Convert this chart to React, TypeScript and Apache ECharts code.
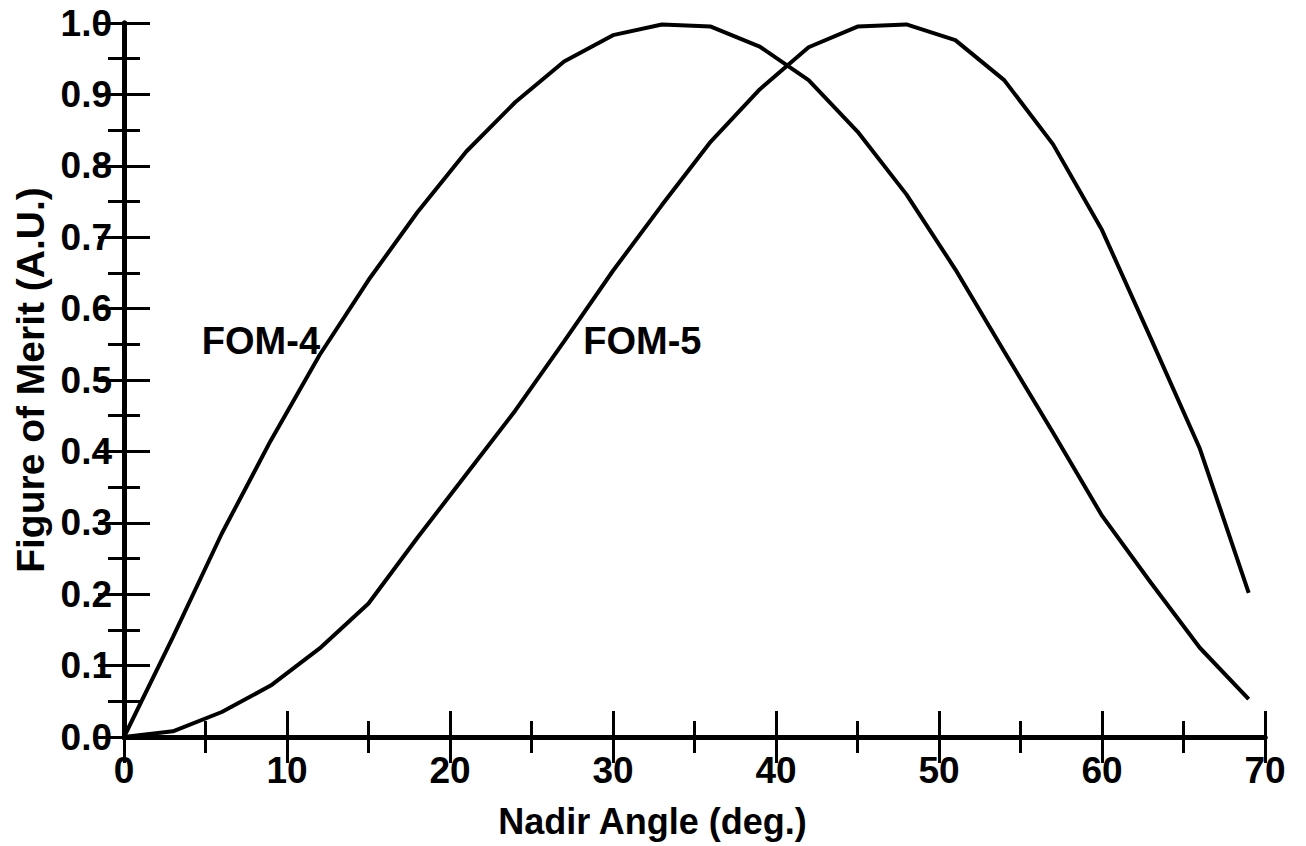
import React, { useEffect, useRef } from "react";
import * as echarts from "echarts";

const nadirAngles = [0, 3, 6, 9, 12, 15, 18, 21, 24, 27, 30, 33, 36, 39, 42, 45, 48, 51, 54, 57, 60, 63, 66, 69];
const fom4 = [0, 0.14, 0.285, 0.415, 0.535, 0.64, 0.735, 0.82, 0.889, 0.946, 0.983, 0.998, 0.995, 0.967, 0.92, 0.848, 0.76, 0.655, 0.54, 0.426, 0.31, 0.216, 0.125, 0.053];
const fom5 = [0, 0.008, 0.035, 0.072, 0.124, 0.187, 0.279, 0.368, 0.457, 0.554, 0.653, 0.745, 0.834, 0.907, 0.966, 0.995, 0.998, 0.976, 0.92, 0.83, 0.71, 0.558, 0.404, 0.202];
const curveLabels = [
  { text: "FOM-4", x: 8.4, y: 0.555 },
  { text: "FOM-5", x: 31.8, y: 0.555 },
];
const xTitle = "Nadir Angle (deg.)";
const yTitle = "Figure of Merit (A.U.)";

const FONT = "'Liberation Sans', Arial, Helvetica, sans-serif";

export default function App() {
  const ref = useRef<HTMLDivElement>(null);
  useEffect(() => {
    if (!ref.current) return;
    const chart = echarts.init(ref.current, null, { renderer: "svg" });
    const axisLine = { show: true, lineStyle: { color: "#000", width: 5 } };
    const axisTick = { show: true, inside: true, length: 26, lineStyle: { color: "#000", width: 3 } };
    const minorTick = { show: true, splitNumber: 2, length: 16, lineStyle: { color: "#000", width: 3 } };
    const tickFont = { color: "#000", fontFamily: FONT, fontWeight: "bold" as const, fontSize: 37 };
    const titleFont = { color: "#000", fontFamily: FONT, fontWeight: "bold" as const, fontSize: 36 };
    const xBase = { type: "value" as const, min: 0, max: 70, interval: 10, axisLine, axisTick, minorTick, splitLine: { show: false }, minorSplitLine: { show: false } };
    const yBase = { type: "value" as const, min: 0, max: 1, interval: 0.1, axisLine, axisTick, minorTick, splitLine: { show: false }, minorSplitLine: { show: false } };
    const lineSeries = (name: string, vals: number[]) => ({
      type: "line" as const,
      name,
      data: nadirAngles.map((a, i) => [a, vals[i]]),
      showSymbol: false,
      symbol: "none",
      lineStyle: { color: "#000", width: 4 },
      z: 3,
    });
    chart.setOption({
      animation: false,
      backgroundColor: "#fff",
      grid: { left: 124, right: 41, top: 23, bottom: 109, containLabel: false },
      xAxis: [
        {
          ...xBase,
          position: "bottom",
          name: xTitle,
          nameLocation: "middle",
          nameGap: 66,
          nameTextStyle: { ...titleFont, padding: [0, 84, 0, 0] },
          axisLabel: { ...tickFont, margin: 15, formatter: (v: number) => String(v) },
        },
        { ...xBase, position: "top", axisLabel: { show: false } },
      ],
      yAxis: [
        {
          ...yBase,
          position: "left",
          name: yTitle,
          nameLocation: "middle",
          nameRotate: 90,
          nameGap: 72,
          nameTextStyle: { ...titleFont, fontSize: 39 },
          axisLabel: { ...tickFont, margin: 12, formatter: (v: number) => v.toFixed(1) },
        },
        { ...yBase, position: "right", axisLabel: { show: false } },
      ],
      series: [
        lineSeries("FOM-4", fom4),
        lineSeries("FOM-5", fom5),
        {
          type: "scatter",
          symbolSize: 0,
          itemStyle: { opacity: 1, color: "#000" },
          data: curveLabels.map((l) => ({ value: [l.x, l.y], name: l.text })),
          label: {
            show: true,
            position: "inside",
            formatter: (p: any) => p.name,
            color: "#000",
            fontFamily: FONT,
            fontWeight: "bold",
            fontSize: 38,
            textBorderWidth: 0,
            opacity: 1,
          },
          z: 5,
        },
      ],
    });
    return () => chart.dispose();
  }, []);
  return <div ref={ref} style={{ position: "fixed", left: 0, top: 0, width: 1306, height: 846, background: "#fff" }} />;
}
